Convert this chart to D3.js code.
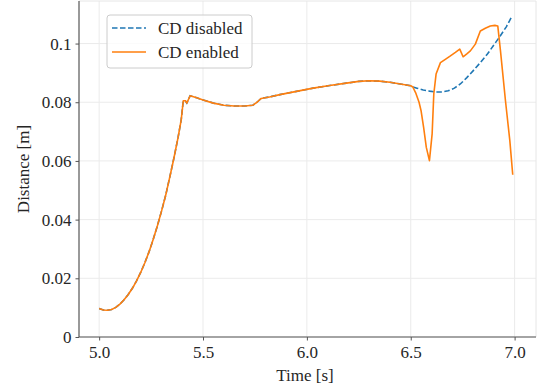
<!DOCTYPE html>
<html>
<head>
<meta charset="utf-8">
<script src="https://cdn.jsdelivr.net/npm/d3@7"></script>
<style>
  body { margin: 0; background: #fff; }
  svg text { font-family: "Liberation Serif", "DejaVu Serif", serif; fill: #262626; }
</style>
</head>
<body>
<div id="chart"></div>
<script>
// shared part: both runs coincide until ~6.5 s
const sharedTime = [5.00, 5.02, 5.04, 5.06, 5.08, 5.10, 5.12, 5.14, 5.16, 5.18, 5.20, 5.22, 5.24, 5.26, 5.28, 5.30,
  5.32, 5.34, 5.36, 5.38, 5.395, 5.405, 5.415, 5.422, 5.438, 5.47, 5.50, 5.55, 5.60, 5.65, 5.70, 5.74, 5.76, 5.78,
  5.82, 5.87, 5.95, 6.03, 6.11, 6.19, 6.25, 6.30, 6.35, 6.40, 6.45, 6.50, 6.51];
const sharedDist = [0.0097, 0.0092, 0.0091, 0.0094, 0.0101, 0.0112, 0.0127, 0.0145, 0.0166, 0.0191, 0.0220, 0.0253, 0.0290, 0.0332, 0.0378, 0.0428,
  0.0482, 0.0545, 0.0610, 0.0680, 0.0740, 0.0805, 0.0805, 0.0797, 0.0822, 0.0815, 0.0808, 0.0797, 0.0790, 0.0787, 0.0787, 0.0790, 0.0800, 0.0813,
  0.0818, 0.0826, 0.0837, 0.0848, 0.0857, 0.0865, 0.0871, 0.0873, 0.0872, 0.0868, 0.0862, 0.0856, 0.0852];

// CD disabled tail
const disabledTime = [6.53, 6.56, 6.59, 6.62, 6.65, 6.68, 6.71, 6.74, 6.77, 6.80, 6.835, 6.87, 6.90, 6.93, 6.96, 6.988];
const disabledDist = [0.0848, 0.0842, 0.0838, 0.0835, 0.0835, 0.0839, 0.0848, 0.0863, 0.0884, 0.0907, 0.0935, 0.0965, 0.0995, 0.1025, 0.1057, 0.1094];

// CD enabled tail
const enabledTime = [6.525, 6.54, 6.55, 6.562, 6.575, 6.590, 6.603, 6.611, 6.622, 6.643, 6.67, 6.691, 6.715, 6.736, 6.752, 6.77,
  6.787, 6.811, 6.835, 6.859, 6.883, 6.905, 6.919, 6.932, 6.956, 6.977, 6.991];
const enabledDist = [0.0830, 0.0800, 0.0770, 0.0714, 0.0646, 0.0601, 0.0692, 0.0828, 0.0896, 0.0935, 0.0948, 0.0958, 0.0970, 0.0981, 0.0955, 0.0965,
  0.0975, 0.0998, 0.1043, 0.1052, 0.1060, 0.1062, 0.1060, 0.0975, 0.0805, 0.0669, 0.0553];

const xTicks = [5.0, 5.5, 6.0, 6.5, 7.0];
const yTicks = [0, 0.02, 0.04, 0.06, 0.08, 0.1];
const yTickLabels = ["0", "0.02", "0.04", "0.06", "0.08", "0.1"];

const width = 538, height = 392;
const margin = { left: 79, top: 1, right: 2, bottom: 55 };
const serif = '"Liberation Serif", "DejaVu Serif", serif';

const svg = d3.select("#chart").append("svg")
    .attr("width", width)
    .attr("height", height);

const x = d3.scaleLinear().domain([4.903, 7.103]).range([margin.left, width - margin.right]);
const y = d3.scaleLinear().domain([0, 0.1145]).range([height - margin.bottom, margin.top]);

// grid
svg.append("g").selectAll("line").data(xTicks).join("line")
    .attr("x1", d => x(d)).attr("x2", d => x(d))
    .attr("y1", y.range()[0]).attr("y2", y.range()[1])
    .attr("stroke", "#ebebeb").attr("stroke-width", 1);
svg.append("g").selectAll("line").data(yTicks).join("line")
    .attr("x1", x.range()[0]).attr("x2", x.range()[1])
    .attr("y1", d => y(d)).attr("y2", d => y(d))
    .attr("stroke", "#ebebeb").attr("stroke-width", 1);

// top / right frame (light)
svg.append("path")
    .attr("d", `M${x.range()[0]},${y.range()[1]}H${x.range()[1]}V${y.range()[0]}`)
    .attr("fill", "none").attr("stroke", "#e6e6e6").attr("stroke-width", 1);

const toPoints = (ts, ds) => ts.map((t, i) => [t, ds[i]]);
const disabled = toPoints(sharedTime.concat(disabledTime), sharedDist.concat(disabledDist));
const enabled = toPoints(sharedTime.concat(enabledTime), sharedDist.concat(enabledDist));

const line = d3.line().x(d => x(d[0])).y(d => y(d[1]));

svg.append("path").datum(disabled)
    .attr("d", line)
    .attr("fill", "none")
    .attr("stroke", "#1f77b4")
    .attr("stroke-width", 1.6)
    .attr("stroke-dasharray", "5.5,2.5");

svg.append("path").datum(enabled)
    .attr("d", line)
    .attr("fill", "none")
    .attr("stroke", "#ff7f0e")
    .attr("stroke-width", 1.6)
    .attr("stroke-linejoin", "round");

// axes
const xAxis = svg.append("g")
    .attr("transform", `translate(0,${y.range()[0]})`)
    .call(d3.axisBottom(x).tickValues(xTicks).tickFormat(d3.format(".1f")).tickSizeOuter(0).tickSize(3.5).tickPadding(5));
const yAxis = svg.append("g")
    .attr("transform", `translate(${x.range()[0]},0)`)
    .call(d3.axisLeft(y).tickValues(yTicks).tickFormat((d, i) => yTickLabels[i]).tickSizeOuter(0).tickSize(3.5).tickPadding(4));

[xAxis, yAxis].forEach(a => {
    a.attr("font-family", serif);
    a.select(".domain").attr("stroke", "#555").attr("stroke-width", 1.2);
    a.selectAll(".tick line").attr("stroke", "#555");
    a.selectAll(".tick text")
        .style("font-family", serif)
        .style("font-size", "17px")
        .attr("fill", "#262626");
});
xAxis.select(".domain").attr("d", `M${x.range()[0]},0H${x.range()[1]}`);
yAxis.select(".domain").attr("d", `M0,${y.range()[0]}V${y.range()[1]}`);

svg.append("text")
    .attr("x", 305).attr("y", 381)
    .attr("text-anchor", "middle")
    .style("font-size", "17px")
    .text("Time [s]");

svg.append("text")
    .attr("transform", `translate(29,${(y.range()[0] + y.range()[1]) / 2}) rotate(-90)`)
    .attr("text-anchor", "middle")
    .style("font-size", "17px")
    .text("Distance [m]");

// legend
const legendItems = [
    { label: "CD disabled", color: "#1f77b4", dash: "5.5,2.5" },
    { label: "CD enabled", color: "#ff7f0e", dash: null }
];
const legend = svg.append("g").attr("transform", "translate(107,15)");
legend.append("rect")
    .attr("width", 145).attr("height", 53)
    .attr("rx", 3)
    .attr("fill", "white").attr("fill-opacity", 0.8)
    .attr("stroke", "#cccccc").attr("stroke-width", 1);
legendItems.forEach((item, i) => {
    const g = legend.append("g").attr("transform", `translate(0,${13 + i * 24})`);
    g.append("line")
        .attr("x1", 5).attr("x2", 39)
        .attr("stroke", item.color).attr("stroke-width", 1.6)
        .attr("stroke-dasharray", item.dash);
    g.append("text")
        .attr("x", 51).attr("dy", "0.33em")
        .style("font-size", "17px")
        .text(item.label);
});
</script>
</body>
</html>
